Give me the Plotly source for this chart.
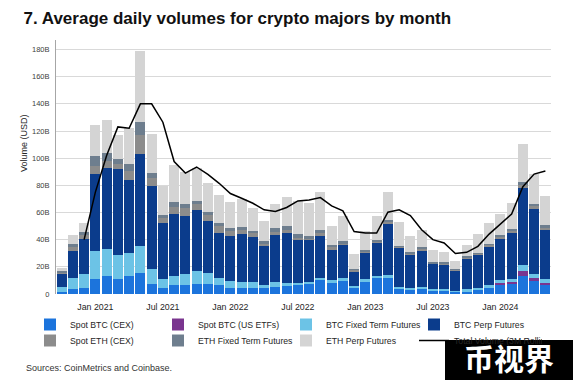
import plotly.graph_objects as go

months = ["Oct 2020", "Nov 2020", "Dec 2020",
          "Jan 2021", "Feb 2021", "Mar 2021", "Apr 2021", "May 2021", "Jun 2021",
          "Jul 2021", "Aug 2021", "Sep 2021", "Oct 2021", "Nov 2021", "Dec 2021",
          "Jan 2022", "Feb 2022", "Mar 2022", "Apr 2022", "May 2022", "Jun 2022",
          "Jul 2022", "Aug 2022", "Sep 2022", "Oct 2022", "Nov 2022", "Dec 2022",
          "Jan 2023", "Feb 2023", "Mar 2023", "Apr 2023", "May 2023", "Jun 2023",
          "Jul 2023", "Aug 2023", "Sep 2023", "Oct 2023", "Nov 2023", "Dec 2023",
          "Jan 2024", "Feb 2024", "Mar 2024", "Apr 2024", "May 2024"]

tick_labels = ["Jan 2021", "Jul 2021", "Jan 2022", "Jul 2022", "Jan 2023", "Jul 2023", "Jan 2024"]

# average daily volume, billions USD
spot_btc_cex = [1.5, 3.6, 4.2,
                10.8, 13.2, 10.8, 13.2, 15.8, 7.6, 4.6, 6.3, 6.3, 7.6, 7.6, 6.3,
                4.6, 4.1, 4.6, 4.1, 5.1, 5.9, 6.3, 7.1, 10, 8.3, 9.5, 4.6,
                9, 11.5, 12, 4.1, 3.2, 3.9, 2.7, 2.7, 1.7, 2.2, 2.7, 4.6,
                6.3, 7.1, 13.2, 9.5, 6.6]
spot_btc_etf = [0, 0, 0,
                0, 0, 0, 0, 0, 0, 0, 0, 0, 0, 0, 0,
                0, 0, 0, 0, 0, 0, 0, 0, 0, 0, 0, 0,
                0, 0, 0, 0, 0, 0, 0, 0, 0, 0, 0, 0,
                2, 2, 3.7, 2, 1.7]
btc_fixed = [3.8, 8, 10.5,
             20.6, 20, 18.2, 17.1, 19.8, 10.5, 6.6, 6.8, 8.5, 9.3, 8, 5.6,
             4.9, 4.9, 4.4, 2.2, 3.9, 2.4, 2, 2, 2, 1.7, 2, 1.2,
             1.7, 1.7, 1.7, 1, 1, 1.2, 0.7, 0.7, 0.5, 1.2, 1.5, 1.7,
             1.7, 1.7, 4.4, 3.4, 2.4]
btc_perp = [9.5, 20.3, 26,
            57.3, 59.3, 62.9, 53.7, 67.8, 61.4, 41, 45.6, 42.9, 45.1, 37.8, 32.9,
            33.4, 35.1, 32.9, 28.8, 34.6, 36.6, 31.7, 30.4, 30.5, 22.7, 24.4, 11,
            19.5, 24.4, 37.8, 28.8, 24.9, 27.1, 18.8, 18.3, 15.1, 22.7, 24.9, 28.8,
            31.2, 34.1, 56.6, 47.8, 36.1]
spot_eth = [1.2, 2.4, 2.9,
            5.6, 5.4, 4.1, 6.6, 13.4, 5.6, 4.1, 5.6, 5.4, 4.1, 4.9, 4.9,
            3.2, 3.2, 2.9, 2, 2.4, 2.4, 1.2, 1.5, 2.5, 1.9, 1.5, 0.9,
            1.2, 1, 1.6, 0.9, 0.9, 1.1, 0.6, 0.9, 0.6, 0.9, 0.6, 1,
            1, 1.6, 2.5, 1.9, 2.1]
eth_fixed = [0.8, 2.4, 1.7,
             7.3, 6.1, 3.7, 4.9, 9.8, 3.7, 2, 3.2, 3.2, 2.7, 2.4, 2.4,
             2.4, 2, 1.7, 1.7, 2.4, 2.4, 2.9, 1.4, 2.4, 1.8, 1.4, 0.8,
             1.2, 1, 1.6, 0.8, 0.8, 1.1, 0.6, 0.8, 0.6, 0.8, 0.6, 1,
             1, 1.6, 2.4, 1.8, 2]
eth_perp = [2.4, 6.8, 7.3,
            22.9, 23.9, 17.1, 26.8, 52.4, 29.3, 21.5, 27.8, 23.2, 24.1, 20.7, 20.7,
            19.5, 20.5, 16.6, 14.6, 17.6, 21.7, 24.4, 24.9, 27.6, 13.9, 18.8, 11,
            14.1, 18, 20.2, 17.3, 11.7, 12.4, 9.3, 7.6, 6.1, 8.5, 14.1, 15.1,
            15.9, 18.8, 27.3, 21.7, 21.5]
total_3m = [None, None, 40,
            75, 102, 123, 122, 140, 140, 126.5, 97.5, 89, 93.5, 88, 81.5,
            74, 70.5, 66.8, 62, 60.7, 63.7, 68.5, 69.2, 71, 64.9, 61.2, 46,
            44.9, 44.9, 60.2, 62, 57.8, 47.3, 40, 37.6, 29.8, 30.7, 35.1, 44.1,
            51.5, 58.8, 79, 88.3, 90.5]

y_ticks = [0, 20, 40, 60, 80, 100, 120, 140, 160, 180]
y_tick_text = ["0", "20B", "40B", "60B", "80B", "100B", "120B", "140B", "160B", "180B"]

FONT = "Liberation Sans, Arial, sans-serif"

series = [
    ("Spot BTC (CEX)", spot_btc_cex, "#1c74dc", "legend"),
    ("Spot BTC (US ETFs)", spot_btc_etf, "#7a358f", "legend"),
    ("BTC Fixed Term Futures", btc_fixed, "#6cc3e6", "legend"),
    ("BTC Perp Futures", btc_perp, "#0b3c8c", "legend"),
    ("Spot ETH (CEX)", spot_eth, "#8c8c8c", "legend2"),
    ("ETH Fixed Term Futures", eth_fixed, "#6e7e8e", "legend2"),
    ("ETH Perp Futures", eth_perp, "#d4d4d4", "legend2"),
]

fig = go.Figure()
for name, vals, color, lg in series:
    fig.add_trace(go.Bar(x=months, y=vals, name=name, marker_color=color,
                         marker_line_width=0, legend=lg))
fig.add_trace(go.Scatter(x=months, y=total_3m, name="Total Volume (3M Rolling)",
                         mode="lines", line=dict(color="black", width=1.5),
                         legend="legend2"))

W, H = 573, 380
L, R, T, B = 56, 22, 40, 86
pw, ph = W - L - R, H - T - B

def px_x(px):
    return (px - L) / pw

def px_y(py):
    return (H - B - py) / ph

leg_common = dict(orientation="h", xanchor="left", yanchor="middle",
                  font=dict(family=FONT, size=8.7, color="#262626"),
                  entrywidth=83, entrywidthmode="pixels",
                  traceorder="normal", bgcolor="rgba(0,0,0,0)")

fig.update_layout(
    width=W, height=H,
    margin=dict(l=L, r=R, t=T, b=B),
    paper_bgcolor="white", plot_bgcolor="white",
    barmode="stack", bargap=0.1,
    font=dict(family=FONT, color="#262626"),
    title=dict(text="7. Average daily volumes for crypto majors by month",
               x=23.5 / W, xref="container", xanchor="left",
               y=1 - 17.8 / H, yref="container", yanchor="middle",
               font=dict(family=FONT, size=17, color="#111111", weight="bold")),
    xaxis=dict(type="category", categoryorder="array", categoryarray=months,
               tickmode="array", tickvals=tick_labels, ticktext=tick_labels,
               showgrid=False, showline=False,
               ticks="outside", ticklen=4, tickcolor="rgba(0,0,0,0)",
               tickfont=dict(family=FONT, size=8.8, color="#262626"),
               range=[-0.5, len(months) - 0.5]),
    yaxis=dict(range=[0, 187], tickmode="array", tickvals=y_ticks, ticktext=y_tick_text,
               showgrid=True, gridcolor="#d9d9d9", gridwidth=1,
               showline=True, linecolor="#a6a6a6", linewidth=1,
               zeroline=False, ticks="outside", ticklen=4, tickcolor="rgba(0,0,0,0)",
               tickfont=dict(family=FONT, size=7.5, color="#404040")),
    legend=dict(x=px_x(30), y=px_y(324.5), **leg_common),
    legend2=dict(x=px_x(30), y=px_y(340.5), **leg_common),
    showlegend=True,
    shapes=[
        dict(type="rect", xref="paper", yref="paper", layer="above",
             x0=px_x(445), x1=px_x(576), y0=px_y(340), y1=px_y(383),
             fillcolor="#000000", line=dict(width=0)),
    ],
    annotations=[
        dict(text="Volume (USD)", textangle=-90, xref="paper", yref="paper",
             x=px_x(24), y=px_y(143), xanchor="center", yanchor="middle",
             showarrow=False, font=dict(family=FONT, size=9, color="#262626")),
        dict(text="Sources: CoinMetrics and Coinbase.", xref="paper", yref="paper",
             x=px_x(23.8), y=px_y(367.6), xanchor="left", yanchor="middle",
             showarrow=False, font=dict(family=FONT, size=9, color="#333333")),
        dict(text="<b>币视界</b>", xref="paper", yref="paper",
             x=px_x(508.5), y=px_y(357), xanchor="center", yanchor="middle",
             showarrow=False,
             font=dict(family="Noto Sans CJK SC", size=30, color="#ffffff")),
    ],
)

fig.write_html("out.html", config={"displayModeBar": False},
               post_script="document.body.style.margin='0px';")
